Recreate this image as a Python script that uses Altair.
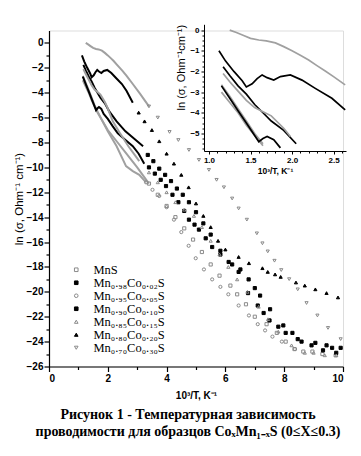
import altair as alt
import pandas as pd

series_names = ["MnS", "Mn₀.₉₈Co₀.₀₂S", "Mn₀.₉₅Co₀.₀₅S", "Mn₀.₉₀Co₀.₁₀S",
                "Mn₀.₈₅Co₀.₁₅S", "Mn₀.₈₀Co₀.₂₀S", "Mn₀.₇₀Co₀.₃₀S"]

mns_x = [1.15, 1.25, 1.35, 1.45, 1.55, 1.65, 1.8, 2.0, 2.3, 2.6, 3.0, 3.4, 3.7, 4.0, 4.3, 4.6,
         4.9, 5.2, 5.5, 5.8, 6.17, 6.4, 6.7, 7.0, 7.4, 7.75, 8.05, 8.35, 8.65, 8.96, 9.3, 9.75]
mns_y = [-3.0, -3.5, -4.0, -4.6, -5.1, -5.6, -6.2, -7.0, -7.9, -8.8, -10.0, -11.3, -12.2, -13.1,
         -14.0, -14.9, -15.8, -16.8, -17.8, -18.7, -19.5, -20.2, -21.0, -22.0, -22.6, -23.3, -24.0,
         -24.6, -24.8, -24.8, -25.0, -25.1]

co02_x = [1.17, 1.25, 1.35, 1.45, 1.55, 1.65, 1.75, 1.9, 2.05, 2.3, 2.6, 2.9, 3.2, 3.36, 3.55,
          3.75, 3.95, 4.15, 4.35, 4.55, 4.76, 5.0, 5.25, 5.5, 5.83, 6.23, 6.51, 6.79, 7.0, 7.18,
          7.52, 7.97, 8.28, 8.59, 9.06, 9.44, 9.77]
co02_y = [-1.77, -2.2, -2.7, -3.1, -3.6, -4.0, -4.4, -4.85, -5.5, -6.3, -7.1, -7.7, -8.3, -9.0,
          -9.5, -10.1, -10.6, -11.1, -11.7, -12.2, -12.8, -13.6, -14.5, -15.4, -16.7, -17.8,
          -18.2, -19.0, -19.7, -20.3, -21.4, -22.7, -23.3, -24.0, -24.1, -24.3, -24.9]

co05_x = [1.15, 1.25, 1.35, 1.45, 1.55, 1.65, 1.8, 2.0, 2.3, 2.62, 2.85, 3.07, 3.3, 3.52, 3.75,
          4.0, 4.25, 4.5, 4.75, 4.99, 5.27, 5.55, 5.83, 6.1, 6.45, 6.8, 7.1, 7.35, 7.6, 7.92, 8.37]
co05_y = [-2.65, -3.2, -3.8, -4.4, -5.0, -5.5, -6.2, -7.1, -8.3, -9.9, -10.3, -10.6, -11.2, -11.8,
          -12.3, -13.2, -14.2, -15.2, -16.3, -17.3, -18.2, -19.0, -19.6, -20.2, -21.1, -21.9,
          -22.6, -23.1, -23.6, -24.0, -24.6]

co10_x = [1.15, 1.25, 1.35, 1.45, 1.55, 1.6, 1.65, 1.7, 1.78, 1.86, 2.0, 2.17, 2.34, 2.6, 2.85,
          3.05, 3.24, 3.4, 3.6, 3.8, 3.98, 4.2, 4.4, 4.6, 4.76, 4.95, 5.1, 5.33, 5.55, 5.83, 6.11,
          6.45, 6.77, 7.1, 7.3, 7.5, 7.8, 8.05, 8.46, 8.93, 9.32, 9.63, 9.92]
co10_y = [-2.7, -3.3, -3.9, -4.5, -5.1, -5.4, -5.25, -5.15, -5.3, -5.7, -6.1, -6.7, -7.26, -7.8,
          -8.3, -8.9, -9.7, -10.0, -10.5, -11.0, -11.5, -12.2, -12.8, -13.5, -14.2, -14.6, -15.0,
          -15.7, -16.4, -17.0, -17.6, -18.4, -20.1, -21.1, -21.7, -22.3, -22.8, -23.3, -23.8,
          -24.3, -24.7, -24.5, -24.5]

co15_x = [1.17, 1.25, 1.35, 1.45, 1.55, 1.65, 1.75, 1.9, 1.98, 2.17, 2.4, 2.7, 3.07, 3.4, 3.7,
          4.0, 4.3, 4.6, 4.93, 5.2, 5.5, 5.8, 6.1, 6.4, 6.75, 7.13, 7.45, 7.8, 8.25, 8.7, 9.0,
          9.38, 9.77]
co15_y = [-2.1, -2.5, -2.95, -3.4, -3.75, -3.95, -4.15, -4.75, -5.15, -6.3, -7.2, -8.3, -9.5,
          -10.4, -11.2, -12.0, -12.8, -13.4, -13.9, -14.8, -15.9, -17.0, -18.0, -19.0, -20.0,
          -21.2, -22.2, -23.2, -24.3, -24.9, -24.9, -25.1, -25.1]

co20_x = [1.12, 1.2, 1.3, 1.4, 1.45, 1.52, 1.58, 1.64, 1.70, 1.78, 1.86, 1.98, 2.12, 2.28, 2.48,
          2.64, 2.85, 3.05, 3.25, 3.5, 3.75, 4.0, 4.25, 4.5, 4.75, 5.0, 5.25, 5.5, 5.75, 6.0,
          6.45, 6.8, 7.26, 7.44, 7.69, 7.88, 8.4, 8.7, 9.06, 9.44, 9.83]
co20_y = [-1.0, -1.5, -2.0, -2.45, -2.75, -2.6, -2.35, -2.17, -2.3, -2.42, -2.25, -2.17, -2.42,
          -2.82, -3.3, -3.86, -4.8, -5.6, -6.3, -7.0, -7.9, -8.9, -9.7, -10.6, -11.6, -12.9,
          -13.9, -14.8, -15.9, -16.6, -17.2, -17.7, -18.1, -18.4, -18.6, -18.8, -19.25, -19.5,
          -19.8, -20.1, -20.45]

co30_x = [1.25, 1.33, 1.41, 1.5, 1.6, 1.69, 1.8, 1.9, 2.0, 2.1, 2.2, 2.3, 2.4, 2.5, 2.64, 2.85,
          3.1, 3.4, 3.7, 4.1, 4.4, 4.76, 5.1, 5.44, 5.7, 5.95, 6.23, 6.45, 6.73, 7.07, 7.26, 7.44,
          7.67, 7.9, 8.17, 8.46, 8.76, 9.13, 9.49, 9.92]
co30_y = [0.0, -0.12, -0.25, -0.4, -0.48, -0.52, -0.62, -0.8, -1.0, -1.22, -1.45, -1.72, -1.98,
          -2.25, -2.65, -3.3, -4.1, -5.1, -6.0, -7.15, -7.8, -8.6, -9.4, -10.2, -11.0, -11.6,
          -12.5, -13.3, -14.2, -15.3, -16.1, -16.75, -17.5, -18.25, -18.98, -19.8, -20.9, -21.9,
          -22.9, -23.8]

xs = [mns_x, co02_x, co05_x, co10_x, co15_x, co20_x, co30_x]
ys = [mns_y, co02_y, co05_y, co10_y, co15_y, co20_y, co30_y]

GREY = "#8a8a8a"
shapes = ["square", "square", "circle", "square", "triangle-up", "triangle-up", "triangle-down"]
fills = ["transparent", "black", "transparent", "black", "transparent", "black", "transparent"]
strokes = [GREY, "black", GREY, "black", GREY, "black", GREY]
line_colors = ["#a0a0a0", "black", "#a0a0a0", "black", "#a0a0a0", "black", "#a0a0a0"]
dense_until = [3.4, 3.3, 3.3, 3.3, 3.3, 3.0, 3.4]

rows = []
for i, name in enumerate(series_names):
    for xv, yv in zip(xs[i], ys[i]):
        rows.append({"series": name, "x": xv, "y": yv, "lc": line_colors[i],
                     "dense": xv <= dense_until[i], "sparse": xv >= dense_until[i]})
df = pd.DataFrame(rows)
df_dense = df[df["dense"]]
df_sparse = df[df["sparse"]]
df_inset = df[(df["x"] <= 2.66) & (df["y"] >= -5.85)]

FONT = "Liberation Sans"
common_axis = dict(labelFont=FONT, labelFontWeight="bold", labelColor="black",
                   tickColor="black", domainColor="black", grid=False,
                   titleFont=FONT, titleColor="black")

xs_main = alt.Scale(domain=[0, 10], nice=False, zero=False)
ys_main = alt.Scale(domain=[-26, 1], nice=False, zero=False)
xs_in = alt.Scale(domain=[0.94, 2.65], range=[155, 297], nice=False, zero=False)
ys_in = alt.Scale(domain=[-5.85, 0.28], range=[120.5, -6.2], nice=False, zero=False)

ax_x_main = alt.Axis(orient="bottom", values=[0, 2, 4, 6, 8, 10], labelFontSize=10,
                     tickSize=5, labelPadding=2, domainWidth=1.2, tickWidth=1.2,
                     title="10³/T, K⁻¹", titleFontSize=10, titleFontWeight="bold",
                     titlePadding=7, **common_axis)
ax_y_main = alt.Axis(orient="left", values=list(range(0, -27, -2)), labelFontSize=10,
                     tickSize=5, labelPadding=1, domainWidth=1.2, tickWidth=1.2,
                     title="ln (σ, Ohm⁻¹ cm⁻¹)", titleFontSize=11.5, titleFontWeight="normal",
                     titlePadding=2, **common_axis)

legend = alt.Legend(title=None, orient="none", legendX=21, legendY=233,
                    labelFont="Liberation Serif", labelFontSize=12.5, labelColor="black",
                    symbolSize=13, symbolStrokeWidth=1, rowPadding=-2, labelOffset=11,
                    padding=0)

main_lines = alt.Chart(df_dense).mark_line(strokeWidth=2).encode(
    x=alt.X("x:Q", scale=xs_main, axis=ax_x_main),
    y=alt.Y("y:Q", scale=ys_main, axis=ax_y_main),
    color=alt.Color("lc:N", scale=None),
    detail="series:N",
    order="x:Q",
)

main_points = alt.Chart(df_sparse).mark_point(size=10, opacity=1, strokeWidth=1).encode(
    x=alt.X("x:Q", scale=xs_main, axis=None),
    y=alt.Y("y:Q", scale=ys_main, axis=None),
    shape=alt.Shape("series:N", scale=alt.Scale(domain=series_names, range=shapes), legend=legend),
    fill=alt.Fill("series:N", scale=alt.Scale(domain=series_names, range=fills), legend=legend),
    stroke=alt.Stroke("series:N", scale=alt.Scale(domain=series_names, range=strokes), legend=legend),
)

minor_df = pd.DataFrame({"x": [5.0], "y": [-10.0]})
main_minor = alt.Chart(minor_df).mark_point(opacity=0).encode(
    x=alt.X("x:Q", scale=xs_main, axis=alt.Axis(orient="bottom", values=[1, 3, 5, 7, 9],
            labels=False, domain=False, tickSize=3, tickWidth=1.2, tickColor="black",
            grid=False, title=None)),
    y=alt.Y("y:Q", scale=ys_main, axis=alt.Axis(orient="left", values=list(range(-25, 1, 2)),
            labels=False, domain=False, tickSize=3, tickWidth=1.2, tickColor="black",
            grid=False, title=None)),
)

ax_x_in = alt.Axis(orient="bottom", offset=-215.5, values=[1.0, 1.5, 2.0, 2.5], format=".1f",
                   labelFontSize=8, tickSize=3, labelPadding=2, domainWidth=1,
                   title="10³/T, K⁻¹", titleFontSize=8.5, titleFontWeight="bold",
                   titlePadding=2, **common_axis)
ax_y_in = alt.Axis(orient="left", offset=-155, values=[0, -1, -2, -3, -4, -5],
                   labelFontSize=8, tickSize=3, labelPadding=2, domainWidth=1,
                   title="ln (σ, Ohm⁻¹cm⁻¹)", titleFontSize=11, titleFontWeight="normal",
                   titleAnchor="end", titlePadding=3, **common_axis)

inset_lines = alt.Chart(df_inset).mark_line(strokeWidth=1.7).encode(
    x=alt.X("x:Q", scale=xs_in, axis=ax_x_in),
    y=alt.Y("y:Q", scale=ys_in, axis=ax_y_in),
    color=alt.Color("lc:N", scale=None),
    detail="series:N",
    order="x:Q",
)

inset_minor_x = [round(1.0 + 0.1 * k, 2) for k in range(0, 17) if k % 5 != 0]
inset_minor_y = [round(-0.25 * k, 2) for k in range(0, 24) if k % 4 != 0]
inset_minor = alt.Chart(pd.DataFrame({"x": [1.5], "y": [-2.0]})).mark_point(opacity=0).encode(
    x=alt.X("x:Q", scale=xs_in, axis=alt.Axis(orient="bottom", offset=-215.5,
            values=inset_minor_x, labels=False, domain=False, tickSize=2,
            tickColor="black", grid=False, title=None)),
    y=alt.Y("y:Q", scale=ys_in, axis=alt.Axis(orient="left", offset=-155,
            values=inset_minor_y, labels=False, domain=False, tickSize=2,
            tickColor="black", grid=False, title=None)),
)

caption = alt.TitleParams(
    text=["Рисунок 1 - Температурная зависимость",
          "проводимости для образцов CoₓMn₁₋ₓS (0≤X≤0.3)"],
    orient="bottom", anchor="middle", font="Liberation Serif", fontSize=14,
    fontWeight="bold", color="black", lineHeight=17, offset=7, dx=-8,
)

chart = alt.layer(main_lines, main_points, main_minor, inset_lines, inset_minor).resolve_scale(
    x="independent", y="independent"
).properties(
    width=294, height=336,
    padding={"left": 41, "top": 22.5, "right": 10, "bottom": 80},
    autosize=alt.AutoSizeParams(type="none"),
    title=caption,
).configure_view(stroke=None).configure(background="white")

chart.save("out.html", embed_options={"renderer": "svg", "actions": False})
